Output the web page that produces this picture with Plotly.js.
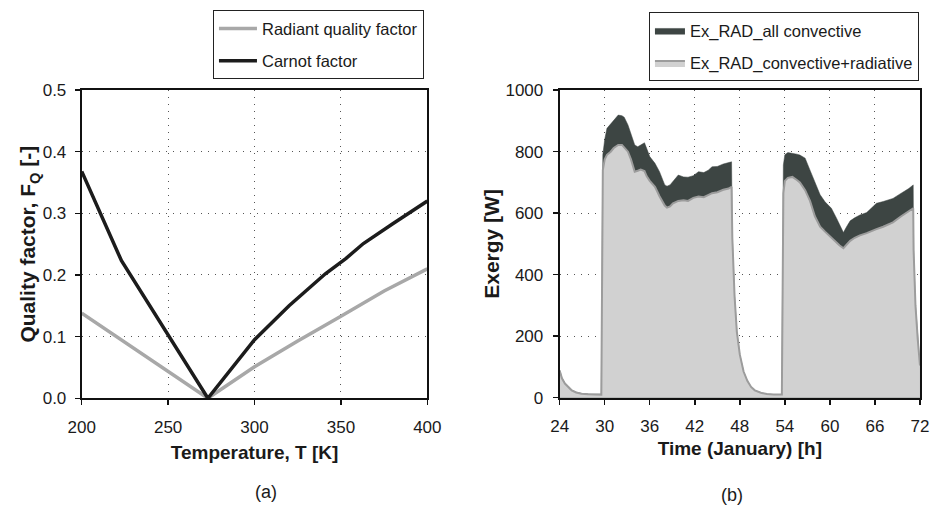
<!DOCTYPE html>
<html>
<head>
<meta charset="utf-8">
<script src="https://cdn.plot.ly/plotly-3.0.1.min.js"></script>
<style>html,body{margin:0;padding:0;background:#fff;}#chart{width:932px;height:509px;}</style>
</head>
<body>
<div id="chart"></div>
<script>
// ---- Panel (a): quality factors vs temperature ----
const tempRadiant = [200, 273, 300, 325, 350, 375, 400];
const radiantFactor = [0.138, 0.0, 0.051, 0.093, 0.133, 0.174, 0.21];
const tempCarnot = [200, 223, 273, 300, 320, 341, 353, 363, 380, 400];
const carnotFactor = [0.368, 0.223, 0.0, 0.095, 0.150, 0.202, 0.227, 0.251, 0.283, 0.32];

// ---- Panel (b): exergy vs time ----
const timeH = [24.0, 24.3, 24.7, 25.2, 25.6, 26.2, 26.9, 27.8, 28.6, 29.55,
  29.75, 30.0, 30.3, 30.8, 31.2, 31.8, 32.3, 32.6, 33.1, 33.5,
  34.0, 34.4, 34.8, 35.3, 35.6, 36.0, 36.7, 37.3, 38.0, 38.3,
  38.7, 39.1, 39.8, 40.5, 41.1, 41.8, 42.5, 43.2, 43.8, 44.3,
  45.0, 45.8, 46.5, 46.9, 47.0, 47.3, 47.6, 48.0, 48.5, 49.0,
  49.5, 50.0, 50.8, 51.6, 52.5, 53.6, 53.8, 54.0, 54.4, 55.0,
  55.6, 56.0, 56.7, 57.35, 58.0, 58.7, 59.35, 60.2, 60.9, 61.3,
  61.8, 62.2, 62.7, 63.3, 64.0, 64.9, 65.5, 66.2, 67.1, 68.4,
  69.5, 70.5, 71.1, 71.15, 71.4, 71.7, 72.0];
const exAllConvective = [90, 65, 47, 33, 25, 18, 14, 12, 11, 11,
  790, 840, 876, 890, 903, 919, 917, 912, 887, 860,
  822, 816, 822, 829, 810, 784, 762, 735, 692, 688,
  692, 705, 724, 718, 717, 722, 735, 732, 740, 751,
  752, 760, 764, 767, 520, 330, 215, 140, 85, 55,
  35, 24, 16, 12, 10, 10, 757, 790, 797, 795,
  792, 789, 779, 740, 700, 660, 637, 616, 583, 560,
  537, 555, 575, 585, 594, 602, 615, 632, 638, 648,
  665, 680, 692, 480, 300, 190, 105];
const exConvRadiative = [88, 63, 46, 32, 24, 17, 13, 11, 10, 10,
  740, 775, 790, 800, 812, 822, 822, 815, 800, 775,
  735, 738, 742, 737, 720, 705, 686, 655, 625, 618,
  622, 632, 640, 642, 640, 650, 654, 652, 660, 665,
  668, 676, 680, 686, 520, 330, 215, 140, 85, 55,
  35, 24, 16, 12, 10, 10, 665, 705, 715, 718,
  708, 700, 675, 640, 590, 556, 540, 520, 505, 495,
  486, 498, 510, 520, 528, 535, 540, 548, 556, 570,
  590, 605, 616, 480, 300, 190, 105];

const FONT = 'Liberation Sans, Arial, sans-serif';
const gridDash = '1px,6px';
const TXT = '#1a1a1a';

const traces = [
  {x: tempRadiant, y: radiantFactor, type: 'scatter', mode: 'lines', name: 'Radiant quality factor',
   line: {color: '#a8a8a8', width: 3.5}, xaxis: 'x', yaxis: 'y', legend: 'legend', legendgroup: 'a1'},
  {x: tempCarnot, y: carnotFactor, type: 'scatter', mode: 'lines', name: 'Carnot factor',
   line: {color: '#1c1c1c', width: 3.5}, xaxis: 'x', yaxis: 'y', legend: 'legend', legendgroup: 'a2'},
  {x: timeH, y: exAllConvective, type: 'scatter', mode: 'lines', fill: 'tozeroy', name: 'Ex_RAD_all convective',
   line: {color: '#3d4543', width: 0.5}, fillcolor: '#3d4543', xaxis: 'x2', yaxis: 'y2', legend: 'legend2', legendgroup: 'b1'},
  {x: timeH, y: exConvRadiative, type: 'scatter', mode: 'lines', fill: 'tozeroy', name: 'Ex_RAD_convective+radiative',
   line: {color: '#9c9c9c', width: 2}, fillcolor: '#d1d1d1', xaxis: 'x2', yaxis: 'y2', legend: 'legend2', legendgroup: 'b2'}
];

const axisCommon = {
  showline: true, linecolor: '#111', linewidth: 2, mirror: true,
  ticks: 'outside', ticklen: 5, tickcolor: '#111', tickwidth: 1.5,
  showgrid: true, gridcolor: '#555', gridwidth: 1, griddash: gridDash,
  zeroline: false, tickfont: {family: FONT, size: 17, color: TXT}
};
const xTitleFont = {family: FONT, size: 19, color: TXT};
const yTitleFont = {family: FONT, size: 21, color: TXT};

const layout = {
  width: 932, height: 509,
  margin: {l: 0, r: 0, t: 0, b: 0},
  paper_bgcolor: '#fff', plot_bgcolor: '#fff',
  font: {family: FONT, color: TXT},
  xaxis: Object.assign({}, axisCommon, {
    domain: [0.0877, 0.4585], range: [200, 400], tickvals: [200, 250, 300, 350, 400],
    ticklabelstandoff: 7,
    title: {text: '<b>Temperature, T [K]</b>', font: xTitleFont, standoff: 10},
    anchor: 'y'
  }),
  yaxis: Object.assign({}, axisCommon, {
    domain: [0.2175, 0.8232], range: [0, 0.5], tickvals: [0, 0.1, 0.2, 0.3, 0.4, 0.5],
    ticktext: ['0.0', '0.1', '0.2', '0.3', '0.4', '0.5'],
    ticklabelstandoff: 5,
    title: {text: '<b>Quality factor, F<sub>Q</sub> [-]</b>', font: yTitleFont, standoff: 0},
    anchor: 'x'
  }),
  xaxis2: Object.assign({}, axisCommon, {
    domain: [0.6005, 0.9871], range: [24, 72], tickvals: [24, 30, 36, 42, 48, 54, 60, 66, 72],
    ticklabelstandoff: 7,
    title: {text: '<b>Time (January) [h]</b>', font: xTitleFont, standoff: 7},
    anchor: 'y2'
  }),
  yaxis2: Object.assign({}, axisCommon, {
    domain: [0.2187, 0.8228], range: [0, 1000], tickvals: [0, 200, 400, 600, 800, 1000],
    ticklabelstandoff: 6,
    title: {text: '<b>Exergy [W]</b>', font: yTitleFont, standoff: 0},
    anchor: 'x2'
  }),
  legend: {
    x: 0.2285, y: 0.98, xanchor: 'left', yanchor: 'top',
    bordercolor: '#222', borderwidth: 1, bgcolor: '#fff',
    font: {family: FONT, size: 16.5, color: TXT},
    traceorder: 'grouped', tracegroupgap: 8, itemwidth: 38
  },
  legend2: {
    x: 0.6963, y: 0.976, xanchor: 'left', yanchor: 'top',
    bordercolor: '#222', borderwidth: 1, bgcolor: '#fff',
    font: {family: FONT, size: 16.5, color: TXT},
    traceorder: 'grouped', tracegroupgap: 8
  },
  annotations: [
    {text: '(a)', xref: 'paper', yref: 'paper', x: 253 / 932, y: 1 - 492 / 509, yanchor: 'middle', showarrow: false,
     font: {family: FONT, size: 18, color: TXT}},
    {text: '(b)', xref: 'paper', yref: 'paper', x: 745 / 932, y: 1 - 495 / 509, yanchor: 'middle', showarrow: false,
     font: {family: FONT, size: 18, color: TXT}}
  ],
  showlegend: true
};

Plotly.newPlot('chart', traces, layout, {staticPlot: true, displayModeBar: false});
</script>
</body>
</html>
